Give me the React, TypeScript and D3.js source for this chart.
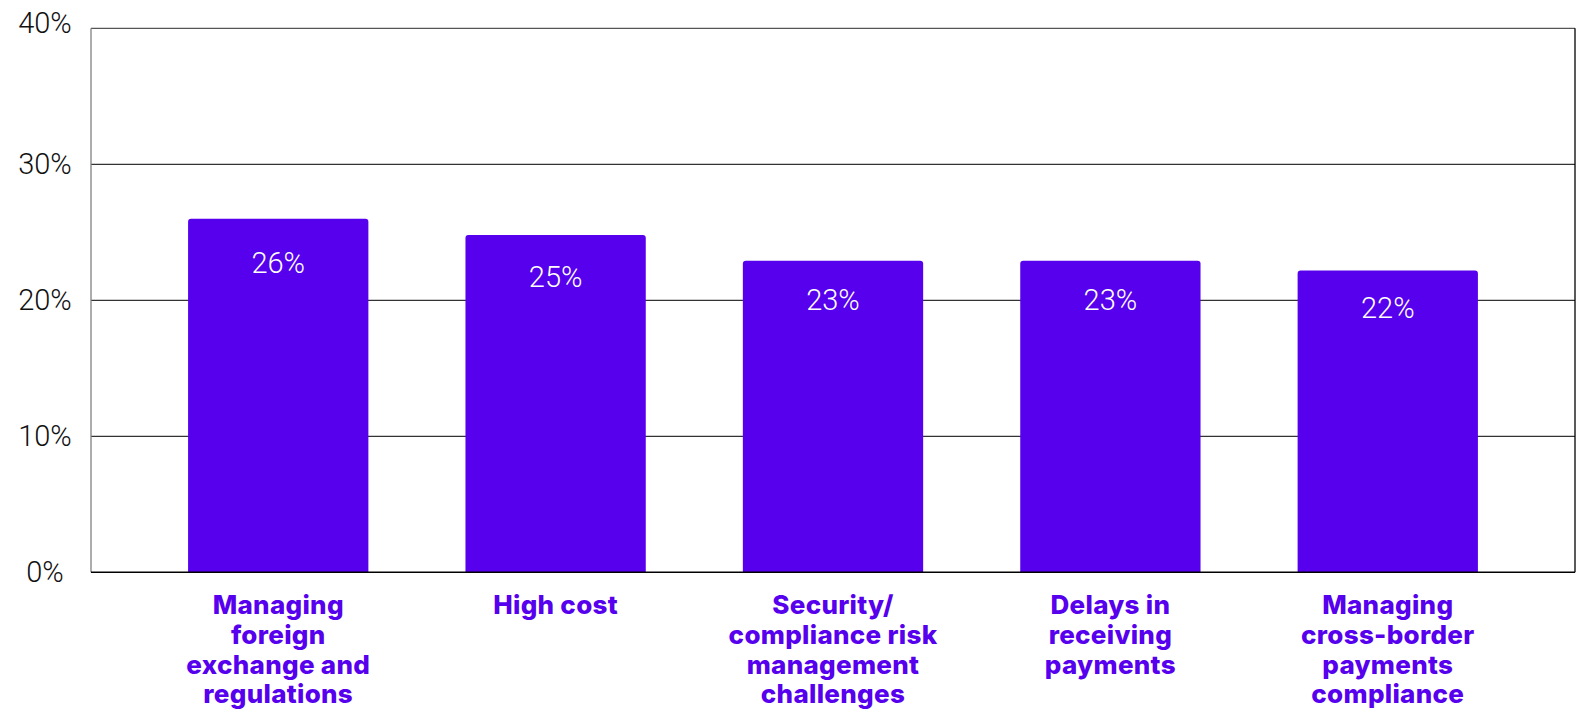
import React from "react";
import * as d3 from "d3";

const categories: string[][] = [
  ["Managing", "foreign", "exchange and", "regulations"],
  ["High cost"],
  ["Security/", "compliance risk", "management", "challenges"],
  ["Delays in", "receiving", "payments"],
  ["Managing", "cross-border", "payments", "compliance"],
];
const values: number[] = [26, 24.8, 22.9, 22.9, 22.2];
const valueLabels: string[] = ["26%", "25%", "23%", "23%", "22%"];
const yTicks: number[] = [0, 10, 20, 30, 40];

const W = 1580;
const H = 711;
const left = 91;
const right = 1575;
const top = 28.3;
const bottom = 572.3;
const purple = "#5600ee";

function topRoundedRect(x: number, y: number, w: number, h: number, r: number) {
  return `M${x},${y + h}V${y + r}Q${x},${y} ${x + r},${y}H${x + w - r}Q${x + w},${y} ${x + w},${y + r}V${y + h}Z`;
}

export default function App() {
  const x = d3
    .scaleBand<number>()
    .domain(d3.range(values.length))
    .range([left, right])
    .paddingInner(0.35)
    .paddingOuter(0.35);
  const y = d3.scaleLinear().domain([0, 40]).range([bottom, top]);

  return (
    <svg
      width={W}
      height={H}
      style={{ position: "absolute", left: 0, top: 0, display: "block" }}
    >
      <rect x={0} y={0} width={W} height={H} fill="#fff" />
      {yTicks
        .filter((t) => t > 0 && t < 40)
        .map((t) => (
          <line key={t} x1={left} x2={right} y1={y(t)} y2={y(t)} stroke="#000" strokeWidth={1} />
        ))}
      <line x1={left} x2={right} y1={top} y2={top} stroke="#555" strokeWidth={1.3} />
      <line x1={left} x2={left} y1={top} y2={bottom} stroke="#808080" strokeWidth={1.3} />
      <line x1={right} x2={right} y1={top} y2={bottom} stroke="#000" strokeWidth={1.3} />
      {values.map((v, i) => (
        <path
          key={i}
          d={topRoundedRect(x(i)!, y(v), x.bandwidth(), y(0) - y(v), 3)}
          fill={purple}
        />
      ))}
      <line x1={left} x2={right} y1={bottom} y2={bottom} stroke="#000" strokeWidth={1.6} />
      {values.map((v, i) => (
        <text
          key={i}
          x={x(i)! + x.bandwidth() / 2}
          y={y(v * 0.875)}
          dy="0.35em"
          textAnchor="middle"
          fill="#fff"
          fontFamily="Roboto"
          fontWeight={300}
          fontSize={29}
        >
          {valueLabels[i]}
        </text>
      ))}
      {yTicks.map((t) => (
        <text
          key={t}
          x={45}
          y={y(t) - (t === 40 ? 5.5 : 0)}
          dy="0.35em"
          textAnchor="middle"
          fill="#111"
          fontFamily="Roboto"
          fontWeight={300}
          fontSize={29}
        >
          {`${t}%`}
        </text>
      ))}
      {categories.map((lines, i) => (
        <text
          key={i}
          x={x(i)! + x.bandwidth() / 2}
          y={614.3}
          textAnchor="middle"
          fill={purple}
          fontFamily="Inter"
          fontWeight={800}
          fontSize={26}
          letterSpacing={0.3}
        >
          {lines.map((ln, j) => (
            <tspan key={j} x={x(i)! + x.bandwidth() / 2} y={614.3 + j * 29.7}>
              {ln}
            </tspan>
          ))}
        </text>
      ))}
    </svg>
  );
}
